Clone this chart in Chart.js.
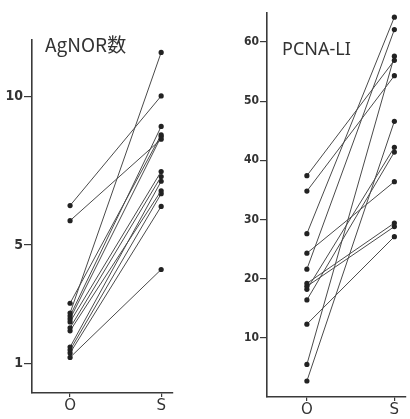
<!DOCTYPE html>
<html>
<head>
<meta charset="utf-8">
<script src="https://cdn.jsdelivr.net/npm/chart.js@4.4.0/dist/chart.umd.min.js"></script>
<style>
html,body{margin:0;padding:0;background:#ffffff;}
#wrap{position:relative;width:410px;height:419px;overflow:hidden;}
.c{position:absolute;top:0;width:205px;height:419px;}
</style>
</head>
<body>
<div id="wrap">
<div class="c" style="left:0"><canvas id="left"></canvas></div>
<div class="c" style="left:205px"><canvas id="right"></canvas></div>
</div>
<script>
// categories
const groups = ['O', 'S'];
// AgNOR count, paired values (O -> S)
const agnorO = [6.33, 5.82, 3.03, 2.70, 2.60, 2.50, 2.40, 2.20, 2.10, 1.55, 1.45, 1.35, 1.20];
const agnorS = [10.03, 8.57, 8.72, 11.5, 9.00, 8.66, 7.48, 7.31, 6.83, 7.15, 6.73, 6.30, 4.17];
const agnorTicks = [1, 5, 10];
const agnorTitle = 'AgNOR数';
// PCNA labelling index, paired values (O -> S)
const pcnaO = [37.4, 34.8, 27.6, 24.3, 21.6, 19.2, 18.7, 18.2, 16.4, 12.3, 5.5, 2.7];
const pcnaS = [56.9, 54.3, 64.2, 36.4, 62.1, 29.4, 28.8, 42.2, 41.4, 27.1, 57.6, 46.6];
const pcnaTicks = [10, 20, 30, 40, 50, 60];
const pcnaTitle = 'PCNA-LI';

const ink = '#3a3a3a';

function makeChart(id, oVals, sVals, yTicks, yMin, yMax, xMin, xMax, title, geom) {
  const datasets = oVals.map((o, i) => ({
    data: [{x: 0, y: o}, {x: 1, y: sVals[i]}],
    borderColor: '#4a4a4a',
    borderWidth: 1,
    pointRadius: 2.6,
    pointBackgroundColor: '#222',
    pointBorderColor: '#222',
    pointBorderWidth: 0,
    showLine: true,
    clip: false,
    tension: 0
  }));
  const titlePlugin = {
    id: 'panelTitle',
    afterDraw(chart) {
      const ctx = chart.ctx;
      ctx.save();
      ctx.fillStyle = '#333';
      ctx.font = geom.titleFont;
      ctx.textBaseline = 'alphabetic';
      ctx.fillText(title, geom.titleX, geom.titleY);
      ctx.restore();
    }
  };
  return new Chart(document.getElementById(id), {
    type: 'scatter',
    data: { datasets },
    plugins: [titlePlugin],
    options: {
      responsive: false,
      animation: false,
      events: [],
      layout: { padding: { top: geom.top, right: geom.right, left: 0, bottom: 0 } },
      plugins: { legend: { display: false }, tooltip: { enabled: false } },
      scales: {
        x: {
          type: 'linear',
          min: xMin, max: xMax,
          afterBuildTicks(s) { s.ticks = [{value: 0}, {value: 1}]; },
          afterFit(s) { s.height = geom.xh; },
          ticks: {
            callback: v => groups[v] !== undefined ? groups[v] : '',
            color: '#333',
            font: { family: "'DejaVu Sans', sans-serif", size: geom.xFont },
            padding: 0,
            maxRotation: 0, autoSkip: false
          },
          grid: { drawOnChartArea: false, drawTicks: true, tickLength: 4, color: ink, lineWidth: 1.2 },
          border: { display: true, color: ink, width: 1.6 }
        },
        y: {
          type: 'linear',
          min: yMin, max: yMax,
          afterBuildTicks(s) { s.ticks = yTicks.map(v => ({value: v})); },
          afterFit(s) { s.width = geom.yw; },
          ticks: {
            color: '#333',
            font: { family: "'Liberation Sans Narrow', 'DejaVu Sans Condensed', sans-serif", size: geom.yFont, weight: 'bold' },
            padding: 1,
            autoSkip: false
          },
          grid: { drawOnChartArea: false, drawTicks: true, tickLength: geom.tickLen, color: ink, lineWidth: 1.2 },
          border: { display: true, color: ink, width: 1.6 }
        }
      }
    }
  });
}

function setSize(id) {
  const c = document.getElementById(id);
  c.width = 205; c.height = 419;
  c.style.width = '205px'; c.style.height = '419px';
}
setSize('left'); setSize('right');

makeChart('left', agnorO, agnorS, agnorTicks, 0, 11.92, -0.418, 1.13, agnorTitle,
  { top: 40, right: 32, xh: 26, yw: 32, tickLen: 8, yFont: 14, xFont: 15,
    titleFont: "19px 'Noto Sans CJK JP', 'Noto Sans', sans-serif", titleX: 45, titleY: 52 });

makeChart('right', pcnaO, pcnaS, pcnaTicks, 0, 64.9, -0.456, 1.133, pcnaTitle,
  { top: 13, right: 0, xh: 22, yw: 62, tickLen: 7, yFont: 12, xFont: 15,
    titleFont: "18px 'Noto Sans', sans-serif", titleX: 77, titleY: 55 });
</script>
</body>
</html>
